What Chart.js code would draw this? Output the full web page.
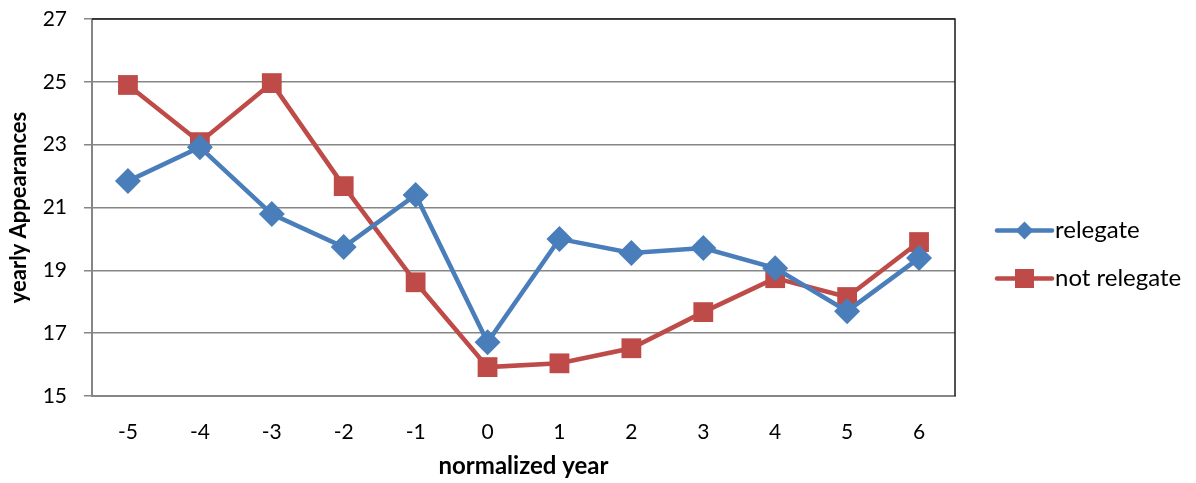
<!DOCTYPE html>
<html>
<head>
<meta charset="utf-8">
<script src="https://cdn.jsdelivr.net/npm/chart.js@4/dist/chart.umd.min.js"></script>
<style>
  html, body { margin: 0; padding: 0; background: #ffffff; }
  #wrap { width: 1196px; height: 483px; }
</style>
</head>
<body>
<div id="wrap"><canvas id="c" width="1196" height="483"></canvas></div>
<script>
// Normalized years relative to the season in question
const years = ['-5', '-4', '-3', '-2', '-1', '0', '1', '2', '3', '4', '5', '6'];

// Average yearly appearances per group
const relegate    = [21.84, 22.92, 20.79, 19.74, 21.40, 16.71, 20.00, 19.55, 19.71, 19.07, 17.70, 19.39];
const notRelegate = [24.90, 23.08, 24.96, 21.68, 18.62, 15.92, 16.04, 16.52, 17.67, 18.75, 18.15, 19.90];

const seriesNames = ['relegate', 'not relegate'];
const yTicks = { min: 15, max: 27, step: 2 };

const BLUE = '#4a7ebb';
const RED = '#be4b48';
const GRID = '#868686';
const FONT = 'Lato, "Liberation Sans", sans-serif';

// Black frame on the top and right edges of the plot area
const plotFrame = {
  id: 'plotFrame',
  beforeDatasetsDraw(chart) {
    const { ctx, chartArea: a } = chart;
    ctx.save();
    ctx.strokeStyle = '#1a1a1a';
    ctx.lineWidth = 1.5;
    ctx.beginPath();
    ctx.moveTo(a.left, a.top);
    ctx.lineTo(a.right, a.top);
    ctx.lineTo(a.right, a.bottom);
    ctx.stroke();
    ctx.restore();
  }
};

// Legend showing a line segment with the series marker on it
const lineLegend = {
  id: 'lineLegend',
  afterDraw(chart) {
    const { ctx, chartArea: a } = chart;
    const x0 = a.right + 42, x1 = x0 + 55, xm = (x0 + x1) / 2;
    const baseY = chart.height / 2 - 11;
    chart.data.datasets.forEach((ds, i) => {
      const y = baseY + i * 48;
      ctx.save();
      ctx.strokeStyle = ds.borderColor;
      ctx.lineWidth = 4.5;
      ctx.lineCap = 'round';
      ctx.beginPath();
      ctx.moveTo(x0, y);
      ctx.lineTo(x1, y);
      ctx.stroke();
      ctx.fillStyle = ds.pointBackgroundColor;
      ctx.beginPath();
      if (ds.pointStyle === 'rectRot') {
        const s = 9;
        ctx.moveTo(xm - s, y); ctx.lineTo(xm, y - s); ctx.lineTo(xm + s, y); ctx.lineTo(xm, y + s);
        ctx.closePath();
      } else {
        const s = 9.5;
        ctx.rect(xm - s, y - s, 2 * s, 2 * s);
      }
      ctx.fill();
      ctx.fillStyle = '#000000';
      ctx.font = '24px ' + FONT;
      ctx.textAlign = 'left';
      ctx.textBaseline = 'middle';
      ctx.fillText(ds.label, x1 + 3, y);
      ctx.restore();
    });
  }
};

new Chart(document.getElementById('c'), {
  type: 'line',
  data: {
    labels: years,
    datasets: [
      {
        label: seriesNames[0],
        data: relegate,
        borderColor: BLUE,
        backgroundColor: BLUE,
        pointBackgroundColor: BLUE,
        pointBorderColor: BLUE,
        pointStyle: 'rectRot',
        pointRadius: 13,
        pointBorderWidth: 0,
        borderWidth: 4.5,
        tension: 0
      },
      {
        label: seriesNames[1],
        data: notRelegate,
        borderColor: RED,
        backgroundColor: RED,
        pointBackgroundColor: RED,
        pointBorderColor: RED,
        pointStyle: 'rect',
        pointRadius: 14,
        pointBorderWidth: 0,
        borderWidth: 4.5,
        tension: 0
      }
    ]
  },
  options: {
    responsive: false,
    animation: false,
    events: [],
    layout: { autoPadding: false, padding: { top: 19, right: 241, bottom: 0, left: 0 } },
    plugins: {
      legend: { display: false },
      tooltip: { enabled: false }
    },
    scales: {
      x: {
        type: 'category',
        offset: true,
        grid: { display: false, drawTicks: false },
        border: { display: true, color: GRID, width: 2 },
        ticks: { color: '#000000', font: { family: FONT, size: 21 }, padding: 24, maxRotation: 0 },
        title: {
          display: true,
          text: 'normalized year',
          color: '#000000',
          font: { family: FONT, size: 24, weight: 'bold' },
          padding: { top: 0, bottom: 2 }
        },
        afterFit(scale) {
          scale.height = 87;
          scale.paddingLeft = 0;
          scale.paddingRight = 0;
        }
      },
      y: {
        min: yTicks.min,
        max: yTicks.max,
        grid: { color: GRID, lineWidth: 1.5, drawTicks: true, tickLength: 8, tickColor: GRID },
        border: { display: true, color: GRID, width: 2 },
        ticks: {
          stepSize: yTicks.step,
          color: '#000000',
          font: { family: FONT, size: 21 },
          padding: 17
        },
        title: {
          display: true,
          text: 'yearly Appearances',
          color: '#000000',
          font: { family: FONT, size: 22, weight: 'bold' },
          padding: { top: 6, bottom: 0 }
        },
        afterFit(scale) {
          scale.width = 92;
          scale.paddingTop = 0;
          scale.paddingBottom = 0;
        }
      }
    }
  },
  plugins: [plotFrame, lineLegend]
});
</script>
</body>
</html>
